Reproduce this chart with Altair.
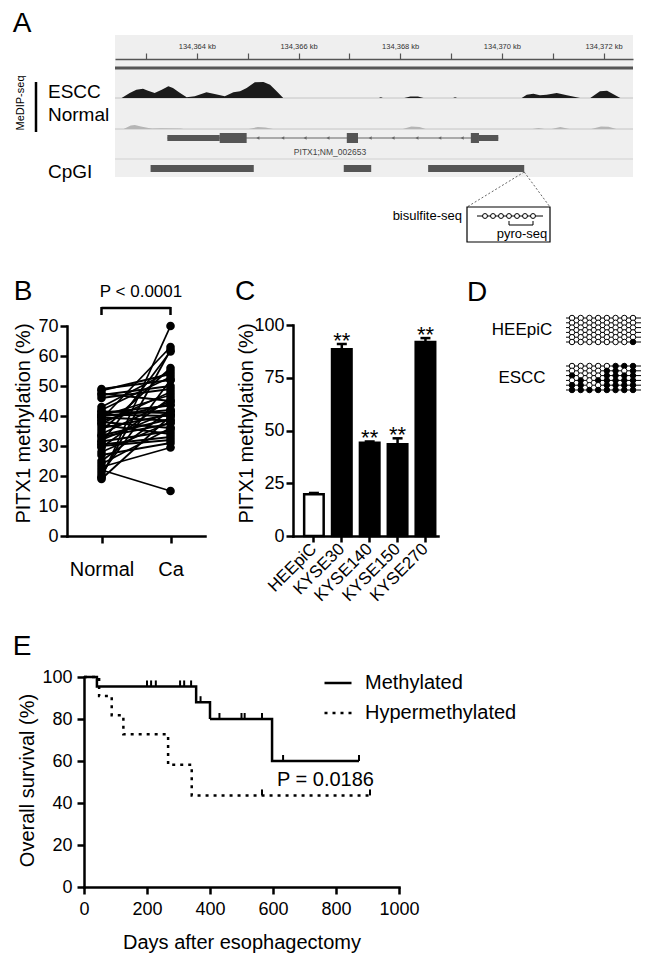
import altair as alt
import pandas as pd

FONT = "Liberation Sans"
W, H = 634, 945

# ======================= DATA =======================
# --- A: MeDIP-seq browser view around PITX1 (chr5, kb) ---
ruler_kb = [134363, 134364, 134365, 134366, 134367, 134368, 134369, 134370, 134371, 134372]
escc_kb = [134362.52, 134362.68, 134362.81, 134362.94, 134363.04, 134363.17, 134363.31, 134363.44,
           134363.53, 134363.67, 134363.80, 134363.96, 134364.19, 134364.35, 134364.55, 134364.72,
           134364.85, 134364.98, 134365.14, 134365.31, 134365.44, 134365.57, 134365.70,
           134367.58, 134367.62, 134367.66,
           134368.08, 134368.20, 134368.35, 134368.46,
           134369.04, 134369.08, 134369.12,
           134370.39, 134370.49, 134370.62, 134370.75, 134370.88, 134371.08, 134371.28, 134371.54,
           134371.74, 134371.93, 134372.07, 134372.33]
escc_signal = [0, 5, 8.3, 9.3, 7.3, 5, 8.3, 11.7,
               10, 5, 0.7, 1.7, 5.7, 4, 1.7, 5.7,
               6.7, 10, 15.7, 16, 13.3, 6.7, 0,
               0, 0.8, 0,
               0, 1.5, 1.5, 0,
               0, 0.8, 0,
               0, 3.3, 4.3, 2.7, 3.3, 5, 2.7, 0,
               0, 6.7, 7.3, 0]
normal_kb = [134362.56, 134362.70, 134362.78, 134362.90, 134363.05, 134363.12, 134363.30, 134363.68, 134363.74,
             134365.02, 134365.20, 134365.35, 134365.50,
             134368.05, 134368.22, 134368.38, 134368.50,
             134370.60, 134370.72, 134370.84,
             134370.98, 134371.15, 134371.33,
             134371.76, 134371.95, 134372.10, 134372.25]
normal_signal = [0, 3.5, 4, 2.5, 1, 0.6, 0.8, 0.6, 0,
                 0, 2, 1.6, 0,
                 0, 2.5, 2, 0,
                 0, 1, 0,
                 0, 2, 0,
                 0, 2.5, 2.2, 0]
gene_span_kb = [134363.42, 134369.93]
utr_start_kb = [134363.42, 134369.55]
utr_end_kb = [134364.45, 134369.93]
exon_start_kb = [134364.45, 134366.95, 134369.39]
exon_end_kb = [134364.98, 134367.17, 134369.55]
strand_marks_kb = [134365.20, 134365.69, 134366.13, 134366.58, 134367.41,
                   134367.86, 134368.33, 134368.78, 134369.22]
cpgi_start_kb = [134363.09, 134366.89, 134368.55]
cpgi_end_kb = [134365.12, 134367.43, 134370.44]
gene_name = "PITX1;NM_002653"
bisulfite_sites = [1, 2, 3, 4, 5, 6, 7]
pyro_sites = [4, 7]

# --- B: paired PITX1 methylation (%) ---
normal_meth = [49, 48.5, 47.5, 47, 46, 43, 42, 41.5, 41, 40.5, 40, 40, 39.5, 39, 38.5, 38, 37.5,
               37, 36, 35, 34, 33.5, 33, 32, 31.5, 31, 30.5, 30, 29.5, 28, 27, 25, 24, 23, 22,
               21, 20, 19.5, 19]
cancer_meth = [52, 54, 45, 50, 49, 55, 53, 41, 43.5, 40, 47, 42, 38.5, 63, 44, 36, 48,
               34, 40.5, 56, 45, 39, 37.5, 41.5, 35, 61.5, 33, 32, 46, 38, 31, 42, 36, 29.5, 15,
               52, 62, 70, 40]

# --- C: cell lines ---
cell_lines = ["HEEpiC", "KYSE30", "KYSE140", "KYSE150", "KYSE270"]
cell_type = ["normal", "cancer", "cancer", "cancer", "cancer"]
cell_mean = [19.8, 88.5, 44.2, 43.5, 92.0]
cell_sd = [0.6, 2.5, 0.6, 2.8, 1.8]
cell_sig = ["", "**", "**", "**", "**"]

# --- D: bisulfite sequencing clones (1 = methylated CpG) ---
heepic_clones = [[0, 0, 0, 0, 0, 0, 0, 0],
                 [0, 0, 0, 0, 0, 0, 0, 0],
                 [0, 0, 0, 0, 0, 0, 0, 0],
                 [0, 0, 0, 0, 0, 0, 0, 0],
                 [0, 0, 0, 0, 0, 0, 0, 0],
                 [0, 0, 0, 0, 0, 0, 0, 1]]
escc_clones = [[0, 0, 0, 0, 0, 1, 1, 1],
               [0, 0, 0, 0, 1, 1, 0, 1],
               [1, 0, 0, 0, 1, 1, 1, 1],
               [0, 1, 0, 1, 1, 1, 1, 1],
               [1, 1, 0, 0, 1, 1, 1, 1],
               [1, 1, 1, 1, 1, 1, 1, 1]]

# --- E: Kaplan-Meier ---
groups = ["Methylated", "Hypermethylated"]
meth_days = [0, 41, 356, 400, 597, 873]
meth_surv = [100, 95.5, 88, 80, 60, 60]
hyper_days = [0, 48, 88, 125, 267, 342, 908]
hyper_surv = [100, 90.9, 81.8, 72.7, 58.2, 43.6, 43.6]
meth_cens_days = [200, 213, 228, 305, 318, 340, 370, 430, 500, 510, 565, 632, 873]
meth_cens_surv = [95.5, 95.5, 95.5, 95.5, 95.5, 95.5, 88, 80, 80, 80, 80, 60, 60]
hyper_cens_days = [565, 908]
hyper_cens_surv = [43.6, 43.6]
p_text_B = "P < 0.0001"
p_text_E = "P = 0.0186"

# ======================= HELPERS =======================
ONE = pd.DataFrame({"k": [0]})


def txt(s, x, y, size, align="center", baseline="middle", angle=None, color="black"):
    kw = dict(text=s, fontSize=size, align=align, baseline=baseline, font=FONT, color=color)
    if angle is not None:
        kw["angle"] = angle
    return alt.Chart(ONE).mark_text(**kw).encode(x=alt.value(x), y=alt.value(y))


def prule(x1, y1, x2, y2, color="black", width=1.0, dash=None):
    kw = dict(color=color, strokeWidth=width)
    if dash:
        kw["strokeDash"] = dash
    return alt.Chart(ONE).mark_rule(**kw).encode(
        x=alt.value(x1), y=alt.value(y1), x2=alt.value(x2), y2=alt.value(y2))


def prect(x1, y1, x2, y2, fill, stroke=None, sw=0):
    kw = dict(fill=fill)
    if stroke:
        kw.update(stroke=stroke, strokeWidth=sw)
    return alt.Chart(ONE).mark_rect(**kw).encode(
        x=alt.value(x1), x2=alt.value(x2), y=alt.value(y1), y2=alt.value(y2))


# ======================= PANEL A =======================
xa = alt.Scale(domain=[134362.39, 134372.58], range=[107, 625], nice=False, zero=False)
ax_ruler = alt.Axis(orient="top", offset=-51, values=ruler_kb, tickSize=6, tickWidth=1.2,
                    tickColor="#555", domainColor="#555", domainWidth=1.5, domainCap="butt",
                    labelFontSize=7.5, labelColor="#333", labelPadding=3, labelFont=FONT,
                    labelExpr="datum.value % 2 == 0 ? format(datum.value, ',') + ' kb' : ''",
                    title=None, grid=False, labelFlush=False, labelOverlap=False, zindex=2)


def XA(f):
    return alt.X(f, scale=xa, axis=ax_ruler)


escc_df = pd.DataFrame({"kb": escc_kb, "sig": escc_signal})
norm_df = pd.DataFrame({"kb": normal_kb, "sig": normal_signal})
gene_df = pd.DataFrame({"s": [gene_span_kb[0]], "e": [gene_span_kb[1]]})
utr_df = pd.DataFrame({"s": utr_start_kb, "e": utr_end_kb})
exon_df = pd.DataFrame({"s": exon_start_kb, "e": exon_end_kb})
arr_df = pd.DataFrame({"kb": strand_marks_kb})
cpg_df = pd.DataFrame({"s": cpgi_start_kb, "e": cpgi_end_kb})
cpg_end_df = pd.DataFrame({"kb": [cpgi_end_kb[-1]]})

a_escc = alt.Chart(escc_df).mark_area(color="#1b1b1b").encode(
    x=XA("kb:Q"),
    y=alt.Y("sig:Q", stack=None, scale=alt.Scale(domain=[0, 16], range=[90, 74], nice=False), axis=None))
a_norm = alt.Chart(norm_df).mark_area(color="#b5b5b5").encode(
    x=XA("kb:Q"),
    y=alt.Y("sig:Q", stack=None, scale=alt.Scale(domain=[0, 16], range=[121, 105], nice=False), axis=None))
a_intron = alt.Chart(gene_df).mark_rule(color="#666", strokeWidth=1.2).encode(
    x=XA("s:Q"), x2="e:Q", y=alt.value(130))
a_utr = alt.Chart(utr_df).mark_rect(color="#555").encode(
    x=XA("s:Q"), x2="e:Q", y=alt.value(127), y2=alt.value(133))
a_exon = alt.Chart(exon_df).mark_rect(color="#555").encode(
    x=XA("s:Q"), x2="e:Q", y=alt.value(125), y2=alt.value(135))
a_arr = alt.Chart(arr_df).mark_point(shape="triangle-left", filled=True, size=12, color="#666",
                                     opacity=1).encode(x=XA("kb:Q"), y=alt.value(130))
a_cpg = alt.Chart(cpg_df).mark_rect(color="#555").encode(
    x=XA("s:Q"), x2="e:Q", y=alt.value(157), y2=alt.value(164))
a_con1 = alt.Chart(cpg_end_df).mark_rule(color="#666", strokeWidth=1, strokeDash=[2, 2]).encode(
    x=XA("kb:Q"), y=alt.value(164), x2=alt.value(459), y2=alt.value(199))
a_con2 = alt.Chart(cpg_end_df).mark_rule(color="#666", strokeWidth=1, strokeDash=[2, 2]).encode(
    x=XA("kb:Q"), y=alt.value(164), x2=alt.value(542), y2=alt.value(199))

panel_a = alt.layer(
    prect(107, 27, 625, 169, "#efefef"),
    prule(107, 90, 625, 90, "#c4c4c4", 1),
    prule(107, 121, 625, 121, "#c4c4c4", 1),
    prule(107, 151, 625, 151, "#d2d2d2", 1.2),
    prule(107, 60, 625, 60, "#555", 3),
    a_escc, a_norm, a_intron, a_utr, a_exon, a_arr, a_cpg, a_con1, a_con2,
).resolve_scale(y="independent")

# bisulfite inset
xs = alt.Scale(domain=[1, 7], range=[477, 525], nice=False, zero=False)
bis_df = pd.DataFrame({"site": bisulfite_sites})
pyro_df = pd.DataFrame({"a": [pyro_sites[0]], "b": [pyro_sites[1]]})
pyro_end_df = pd.DataFrame({"site": pyro_sites})
panel_bis = alt.layer(
    prect(459, 199, 542, 234, "white", "black", 1.2),
    prule(469, 208, 535, 208, "black", 1),
    alt.Chart(bis_df).mark_circle(color="white", stroke="black", strokeWidth=1, size=24, opacity=1).encode(
        x=alt.X("site:Q", scale=xs, axis=None), y=alt.value(208)),
    alt.Chart(pyro_df).mark_rule(color="black", strokeWidth=1).encode(
        x=alt.X("a:Q", scale=xs, axis=None), x2="b:Q", y=alt.value(217)),
    alt.Chart(pyro_end_df).mark_rule(color="black", strokeWidth=1).encode(
        x=alt.X("site:Q", scale=xs, axis=None), y=alt.value(213), y2=alt.value(217)),
)

# ======================= PANEL B =======================
b_long = pd.DataFrame({
    "pair": list(range(len(normal_meth))) * 2,
    "cond": ["Normal"] * len(normal_meth) + ["Ca"] * len(cancer_meth),
    "pct": normal_meth + cancer_meth,
})
xb = alt.Scale(type="point", domain=["Normal", "Ca"], range=[59, 197], padding=0.5)
yb = alt.Scale(domain=[0, 70], range=[528, 318], nice=False, zero=False)
ax_bx = alt.Axis(orient="bottom", offset=528 - H, title=None, labelFontSize=20, labelPadding=16,
                 tickSize=7, labelAngle=0)
ax_by = alt.Axis(orient="left", offset=-59, values=list(range(0, 71, 10)), title="PITX1 methylation (%)",
                 titleX=-34, titleY=415, tickSize=7, labelPadding=2)
XB = lambda f: alt.X(f, scale=xb, axis=ax_bx)
b_lines = alt.Chart(b_long).mark_line(color="black", strokeWidth=1.8).encode(
    x=XB("cond:N"), y=alt.Y("pct:Q", scale=yb, axis=ax_by), detail="pair:N")
b_pts = alt.Chart(b_long).mark_circle(color="black", size=75, opacity=1).encode(
    x=XB("cond:N"), y=alt.Y("pct:Q", scale=yb, axis=ax_by))
br_df = pd.DataFrame({"a": ["Normal"], "b": ["Ca"]})
br_end = pd.DataFrame({"c": ["Normal", "Ca"]})
b_br = alt.Chart(br_df).mark_rule(color="black", strokeWidth=2.5).encode(
    x=XB("a:N"), x2="b:N", y=alt.value(300))
b_br2 = alt.Chart(br_end).mark_rule(color="black", strokeWidth=2.5).encode(
    x=XB("c:N"), y=alt.value(299), y2=alt.value(307))
panel_b = alt.layer(b_lines, b_pts, b_br, b_br2)

# ======================= PANEL C =======================
c_df = pd.DataFrame({"cell": cell_lines, "type": cell_type, "mean": cell_mean,
                     "upper": [m + s for m, s in zip(cell_mean, cell_sd)], "sig": cell_sig})
xc = alt.Scale(type="band", domain=cell_lines, range=[285, 430], paddingInner=0.3, paddingOuter=0.25, align=0.8)
yc = alt.Scale(domain=[0, 100], range=[528, 317], nice=False, zero=True)
ax_cx = alt.Axis(orient="bottom", offset=528 - H, title=None, labelFontSize=17, labelAngle=315,
                 labelAlign="right", labelBaseline="middle", labelPadding=4, tickSize=6)
ax_cy = alt.Axis(orient="left", offset=-285, values=[0, 25, 50, 75, 100], title="PITX1 methylation (%)",
                 titleX=-37, titleY=415, tickSize=7, labelPadding=2)
XC = lambda f: alt.X(f, scale=xc, axis=ax_cx)
c_bars = alt.Chart(c_df).mark_bar(stroke="black", strokeWidth=2.5).encode(
    x=XC("cell:N"), y=alt.Y("mean:Q", scale=yc, axis=ax_cy),
    fill=alt.Fill("type:N", scale=alt.Scale(domain=["normal", "cancer"], range=["white", "black"]), legend=None))
c_err = alt.Chart(c_df).mark_rule(color="black", strokeWidth=2.5).encode(
    x=XC("cell:N"), y=alt.Y("mean:Q", scale=yc, axis=ax_cy), y2="upper:Q")
c_cap = alt.Chart(c_df).mark_tick(color="black", size=10, thickness=2.5, orient="horizontal", opacity=1).encode(
    x=XC("cell:N"), y=alt.Y("upper:Q", scale=yc, axis=ax_cy))
c_star = alt.Chart(c_df).mark_text(font=FONT, fontSize=22, baseline="alphabetic", dy=4, color="black").encode(
    x=XC("cell:N"), y=alt.Y("upper:Q", scale=yc, axis=ax_cy), text="sig:N")
panel_c = alt.layer(c_bars, c_err, c_cap, c_star)

# ======================= PANEL D =======================
def clone_df(m):
    rows = []
    for r, row in enumerate(m):
        for c, v in enumerate(row):
            rows.append({"row": r, "cpg": c, "state": "m" if v else "u"})
    return pd.DataFrame(rows)


xd = alt.Scale(domain=[0, 7], range=[564, 625], nice=False, zero=False)


def clone_panel(m, y0, y1):
    yd = alt.Scale(domain=[0, 5], range=[y0, y1], nice=False, zero=False)
    df = clone_df(m)
    rows_df = pd.DataFrame({"row": list(range(len(m)))})
    lines = alt.Chart(rows_df).mark_rule(color="black", strokeWidth=1).encode(
        x=alt.value(558), x2=alt.value(633), y=alt.Y("row:Q", scale=yd, axis=None))
    dots = alt.Chart(df).mark_circle(stroke="black", strokeWidth=1, size=30, opacity=1).encode(
        x=alt.X("cpg:Q", scale=xd, axis=None), y=alt.Y("row:Q", scale=yd, axis=None),
        fill=alt.Fill("state:N", scale=alt.Scale(domain=["u", "m"], range=["white", "black"]), legend=None))
    return alt.layer(lines, dots)


panel_d1 = clone_panel(heepic_clones, 310, 334)
panel_d2 = clone_panel(escc_clones, 358, 382)

# ======================= PANEL E =======================
km_df = pd.DataFrame({
    "grp": [groups[0]] * len(meth_days) + [groups[1]] * len(hyper_days),
    "day": meth_days + hyper_days,
    "surv": meth_surv + hyper_surv,
})
cens_df = pd.DataFrame({"day": meth_cens_days + hyper_cens_days, "surv": meth_cens_surv + hyper_cens_surv})
xe = alt.Scale(domain=[0, 1000], range=[76, 391], nice=False, zero=False)
ye = alt.Scale(domain=[0, 100], range=[879, 669], nice=False, zero=False)
ax_ex = alt.Axis(orient="bottom", offset=879 - H, values=[0, 200, 400, 600, 800, 1000], format="d",
                 title="Days after esophagectomy", titleX=233.5, titleY=55, titleBaseline="middle",
                 tickSize=7, labelPadding=6)
ax_ey = alt.Axis(orient="left", offset=-76, values=[0, 20, 40, 60, 80, 100], title="Overall survival (%)",
                 titleX=-47, titleY=772, tickSize=7, labelPadding=5)
e_lines = alt.Chart(km_df).mark_line(interpolate="step-after", color="black", strokeWidth=2.5).encode(
    x=alt.X("day:Q", scale=xe, axis=ax_ex),
    y=alt.Y("surv:Q", scale=ye, axis=ax_ey),
    strokeDash=alt.StrokeDash("grp:N", scale=alt.Scale(domain=groups, range=[[1, 0], [3, 5]]),
                              legend=alt.Legend(orient="none", legendX=315, legendY=660, title=None,
                                                symbolType="stroke", symbolStrokeWidth=2.5, symbolSize=729,
                                                symbolStrokeColor="black", labelFontSize=20, labelFont=FONT,
                                                labelColor="black", labelOffset=12, rowPadding=5, padding=0)))
e_cens = alt.Chart(cens_df).mark_tick(orient="vertical", size=6, thickness=2, color="black", opacity=1).encode(
    x=alt.X("day:Q", scale=xe, axis=ax_ex), y=alt.Y("surv:Q", scale=ye, axis=ax_ey), yOffset=alt.value(-3))
panel_e = alt.layer(e_lines, e_cens)

# ======================= TEXT =======================
texts = [
    txt("A", 14, 16, 28),
    txt("MeDIP-seq", 13, 95, 11, angle=270),
    txt("ESCC", 40, 84, 19, align="left"),
    txt("Normal", 40, 107, 19, align="left"),
    txt("CpGI", 40, 164, 19, align="left"),
    txt(gene_name, 322, 144, 8.5, color="#444"),
    txt("bisulfite-seq", 454, 208, 13, align="right"),
    txt("pyro-seq", 514, 226, 13),
    txt("B", 15, 284, 28),
    txt(p_text_B, 133, 284, 17),
    txt("C", 237, 284, 28),
    txt("D", 469, 285, 28),
    txt("HEEpiC", 514, 322, 17),
    txt("ESCC", 514, 370, 17),
    txt("E", 14, 639, 28),
    txt(p_text_E, 317.5, 772, 20),
]

chart = alt.layer(
    panel_a, prule(28, 74, 28, 124, "black", 2.5), panel_bis,
    panel_b, panel_c, panel_d1, panel_d2, panel_e, *texts
).resolve_scale(
    x="independent", y="independent", fill="independent", strokeDash="independent"
).resolve_axis(
    x="independent", y="independent"
).properties(
    width=W, height=H, padding=0, autosize=alt.AutoSizeParams(type="none")
).configure_view(stroke=None).configure_axis(
    grid=False, domainColor="black", domainWidth=2.5, tickColor="black", tickWidth=2.5,
    labelColor="black", labelFont=FONT, labelFontSize=18, titleFont=FONT, titleFontSize=20,
    titleFontWeight="normal", titleColor="black", labelFlush=False, labelOverlap=False,
    domainCap="square", zindex=1
)

chart.save("out.html", embed_options={"renderer": "svg", "actions": False})
